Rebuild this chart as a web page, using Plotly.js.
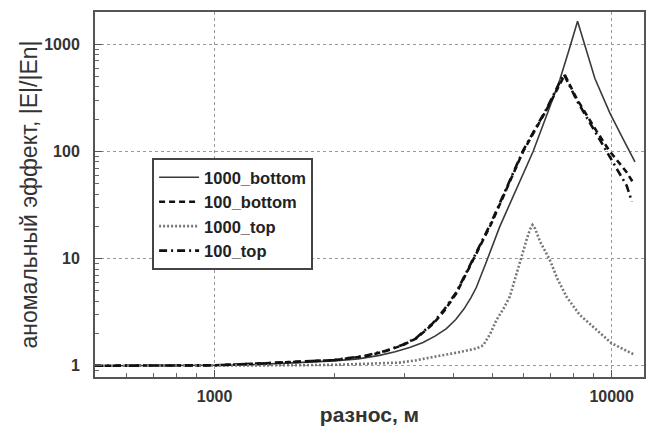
<!DOCTYPE html>
<html>
<head>
<meta charset="utf-8">
<script src="https://cdn.plot.ly/plotly-3.0.1.min.js"></script>
<style>html,body{margin:0;padding:0;background:#fff;}#chart{width:651px;height:426px;}</style>
</head>
<body>
<div id="chart"></div>
<script>
// 1000_bottom (solid)
const x1000b = [500, 800, 1000, 1300, 1600, 2000, 2300, 2604, 2850, 3100, 3350, 3600, 3837, 4050, 4250, 4420, 4565, 4700, 4819, 5227, 5800, 6342, 6900, 7405, 7800, 8208, 9076, 9901, 10700, 11450];
const y1000b = [1.0, 1.0, 1.01, 1.03, 1.06, 1.11, 1.16, 1.25, 1.35, 1.48, 1.65, 1.9, 2.22, 2.7, 3.4, 4.3, 5.4, 7.0, 9.0, 19.9, 47, 100, 230, 468, 870, 1640, 480, 228, 130, 80];
// 100_bottom (dashed)
const x100b = [500, 800, 1000, 1300, 1600, 2000, 2400, 2700, 2981, 3221, 3548, 3800, 4064, 4277, 4477, 4982, 5984, 6855, 7478, 7620, 8170, 9162, 9901, 10910, 11300];
const y100b = [1.0, 1.0, 1.01, 1.05, 1.08, 1.13, 1.23, 1.37, 1.56, 1.8, 2.45, 3.3, 4.75, 6.8, 9.7, 21.4, 100, 245, 468, 520, 310, 155, 100, 64, 52];
// 1000_top (dotted)
const x1000t = [500, 1000, 1500, 2000, 2604, 2924, 3200, 3480, 3689, 4100, 4565, 4750, 4950, 5128, 5339, 5539, 5700, 5871, 6000, 6104, 6220, 6320, 6420, 6600, 6988, 7300, 7699, 8300, 8986, 10000, 11452];
const y1000t = [1.0, 1.0, 1.01, 1.02, 1.05, 1.07, 1.12, 1.18, 1.24, 1.33, 1.45, 1.55, 2.0, 2.67, 3.4, 4.41, 6.2, 9.06, 12, 14.96, 18.5, 20.6, 19, 14.5, 9.72, 6.5, 4.41, 3.0, 2.31, 1.62, 1.26];
// 100_top (dash-dot)
const x100t = [500, 800, 1000, 1300, 1600, 2000, 2400, 2700, 2981, 3221, 3548, 3800, 4064, 4277, 4477, 4982, 5984, 6855, 7478, 7580, 8170, 9162, 9901, 10910, 11250];
const y100t = [1.0, 1.0, 1.01, 1.05, 1.08, 1.13, 1.24, 1.38, 1.57, 1.82, 2.5, 3.4, 4.85, 7.0, 9.9, 22, 102, 250, 480, 528, 300, 145, 88, 48, 34];

const seriesNames = ['1000_bottom', '100_bottom', '1000_top', '100_top'];
const xTickVals = [1000, 10000];
const xTickText = ['1000', '10000'];
const xMinorVals = [600, 700, 800, 900, 2000, 3000, 4000, 5000, 6000, 7000, 8000, 9000];
const yTickVals = [1, 10, 100, 1000];
const yTickText = ['1', '10', '100', '1000'];
const yMinorVals = [0.8, 0.9, 2, 3, 4, 5, 6, 7, 8, 9, 20, 30, 40, 50, 60, 70, 80, 90, 200, 300, 400, 500, 600, 700, 800, 900, 2000];

const traces = [
  {x: x1000b, y: y1000b, name: seriesNames[0], mode: 'lines', line: {color: '#3a3a3a', width: 1.6, dash: 'solid'}},
  {x: x100b, y: y100b, name: seriesNames[1], mode: 'lines', line: {color: '#111', width: 2.6, dash: '6px,4px'}},
  {x: x1000t, y: y1000t, name: seriesNames[2], mode: 'lines', line: {color: '#777', width: 2.6, dash: '2px,2px'}},
  {x: x100t, y: y100t, name: seriesNames[3], mode: 'lines', line: {color: '#111', width: 2.6, dash: '8px,4px,2px,4px'}}
];

const FAM = 'Liberation Sans, Arial, sans-serif';
const axisFont = {family: FAM, size: 16, color: '#333', weight: 700};
const layout = {
  width: 651, height: 426,
  margin: {l: 95, r: 7, t: 12, b: 49},
  paper_bgcolor: '#fff', plot_bgcolor: '#fff',
  showlegend: true,
  legend: {
    x: 0.104, y: 0.6, xanchor: 'left', yanchor: 'top',
    bgcolor: '#fff', bordercolor: '#444', borderwidth: 2,
    font: {family: FAM, size: 16.5, color: '#222', weight: 700},
    itemwidth: 40,
    entrywidth: 168, entrywidthmode: 'pixels',
    tracegroupgap: 0
  },
  xaxis: {
    type: 'log', range: [Math.log10(500), Math.log10(12065)],
    tickmode: 'array', tickvals: xTickVals, ticktext: xTickText,
    ticks: 'inside', ticklen: 7, tickcolor: '#555', tickwidth: 1,
    ticklabelstandoff: 4,
    showgrid: true, gridcolor: '#999', griddash: 'dot', gridwidth: 1,
    minor: {tickmode: 'array', tickvals: xMinorVals, ticks: 'inside', ticklen: 4, tickcolor: '#666', showgrid: false},
    showline: true, mirror: true, linecolor: '#555', linewidth: 2,
    zeroline: false, tickfont: axisFont,
    title: {text: 'разнос, м', font: {family: FAM, size: 21, color: '#333', weight: 700}, standoff: 10}
  },
  yaxis: {
    type: 'log', range: [-0.105, 3.302],
    tickmode: 'array', tickvals: yTickVals, ticktext: yTickText,
    ticks: 'inside', ticklen: 7, tickcolor: '#555', tickwidth: 1,
    ticklabelstandoff: 10,
    showgrid: true, gridcolor: '#999', griddash: 'dot', gridwidth: 1,
    minor: {tickmode: 'array', tickvals: yMinorVals, ticks: 'inside', ticklen: 4, tickcolor: '#666', showgrid: false},
    showline: true, mirror: true, linecolor: '#555', linewidth: 2,
    zeroline: false, tickfont: axisFont,
    title: {text: 'аномальный эффект, |E|/|En|', font: {family: FAM, size: 23, color: '#333'}, standoff: 0}
  }
};

Plotly.newPlot('chart', traces, layout, {displayModeBar: false, staticPlot: true});
</script>
</body>
</html>
